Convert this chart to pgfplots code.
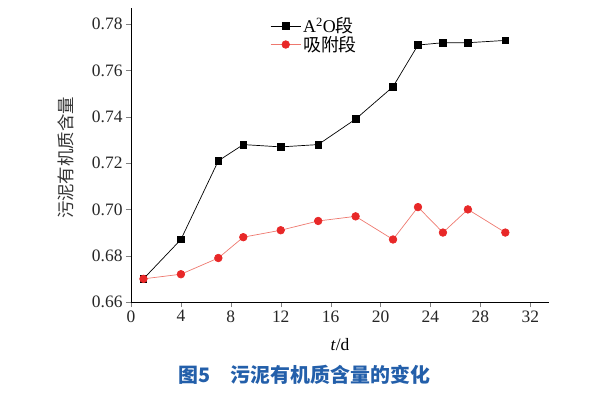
\documentclass[border=0pt]{standalone}
\usepackage{pgfplots}
\pgfplotsset{compat=1.18}
\usepackage{fontspec}
\setmainfont{Liberation Serif}
\newfontfamily\cjk{Noto Sans CJK SC}
\definecolor{capblue}{RGB}{35,95,170}
\definecolor{mred}{RGB}{232,40,40}
\definecolor{lred}{RGB}{238,120,110}
\begin{document}
\begin{tikzpicture}
\useasboundingbox (-131bp,-92bp) rectangle (470bp,302bp);
\begin{axis}[
  scale only axis, width=418bp, height=294bp,
  xmin=0, xmax=33.5, ymin=0.66, ymax=0.787,
  axis lines*=left,
  tick align=outside,
  major tick length=5bp,
  xtick={0,4,...,32},
  ytick={0.66,0.68,...,0.781},
  yticklabel style={/pgf/number format/fixed,/pgf/number format/fixed zerofill,/pgf/number format/precision=2},
  /pgf/number format/assume math mode=true,
  tick label style={font=\fontsize{17.5}{20}\selectfont, text=black!85},
  xlabel={\textit{t}/d},
  ylabel={\cjk 污泥有机质含量},
  xlabel style={at={(rel axis cs:0.5,0)}, yshift=-43bp, anchor=center, font=\fontsize{17.5}{20}\selectfont},
  ylabel style={at={(rel axis cs:0,0.49)}, yshift=65bp, anchor=center, font=\fontsize{17.5}{20}\selectfont, text=black!80},
  clip=false,
  legend image code/.code={\draw[mark repeat=2,mark phase=2,#1] plot coordinates {(0bp,0bp) (15bp,0bp) (30bp,0bp)};},
  legend style={draw=none, fill=none, at={(rel axis cs:0.333,0.975)}, anchor=north west, font=\fontsize{18}{18}\selectfont, row sep=-2bp, inner sep=0pt},
  legend cell align=left,
]
\addplot[black, line width=0.7pt, mark=square*, mark size=3.3bp, mark options={solid}] coordinates {
(1,0.670) (4,0.687) (7,0.721) (9,0.728) (12,0.727) (15,0.728) (18,0.739) (21,0.753) (23,0.771) (25,0.772) (27,0.772) (30,0.773)};
\addlegendentry{A\textsuperscript{2}O{\cjk 段}}
\addplot[lred, line width=0.7pt, mark=*, mark size=3.8bp, mark options={fill=mred, draw=mred}] coordinates {
(1,0.670) (4,0.672) (7,0.679) (9,0.688) (12,0.691) (15,0.695) (18,0.697) (21,0.687) (23,0.701) (25,0.690) (27,0.700) (30,0.690)};
\addlegendentry{{\cjk 吸附段}}
\node[text=capblue, font=\fontsize{20}{24}\selectfont\cjk\bfseries] at (rel axis cs:0.415,0) [yshift=-73bp] {图5\hspace{1em}污泥有机质含量的变化};
\end{axis}
\end{tikzpicture}
\end{document}
